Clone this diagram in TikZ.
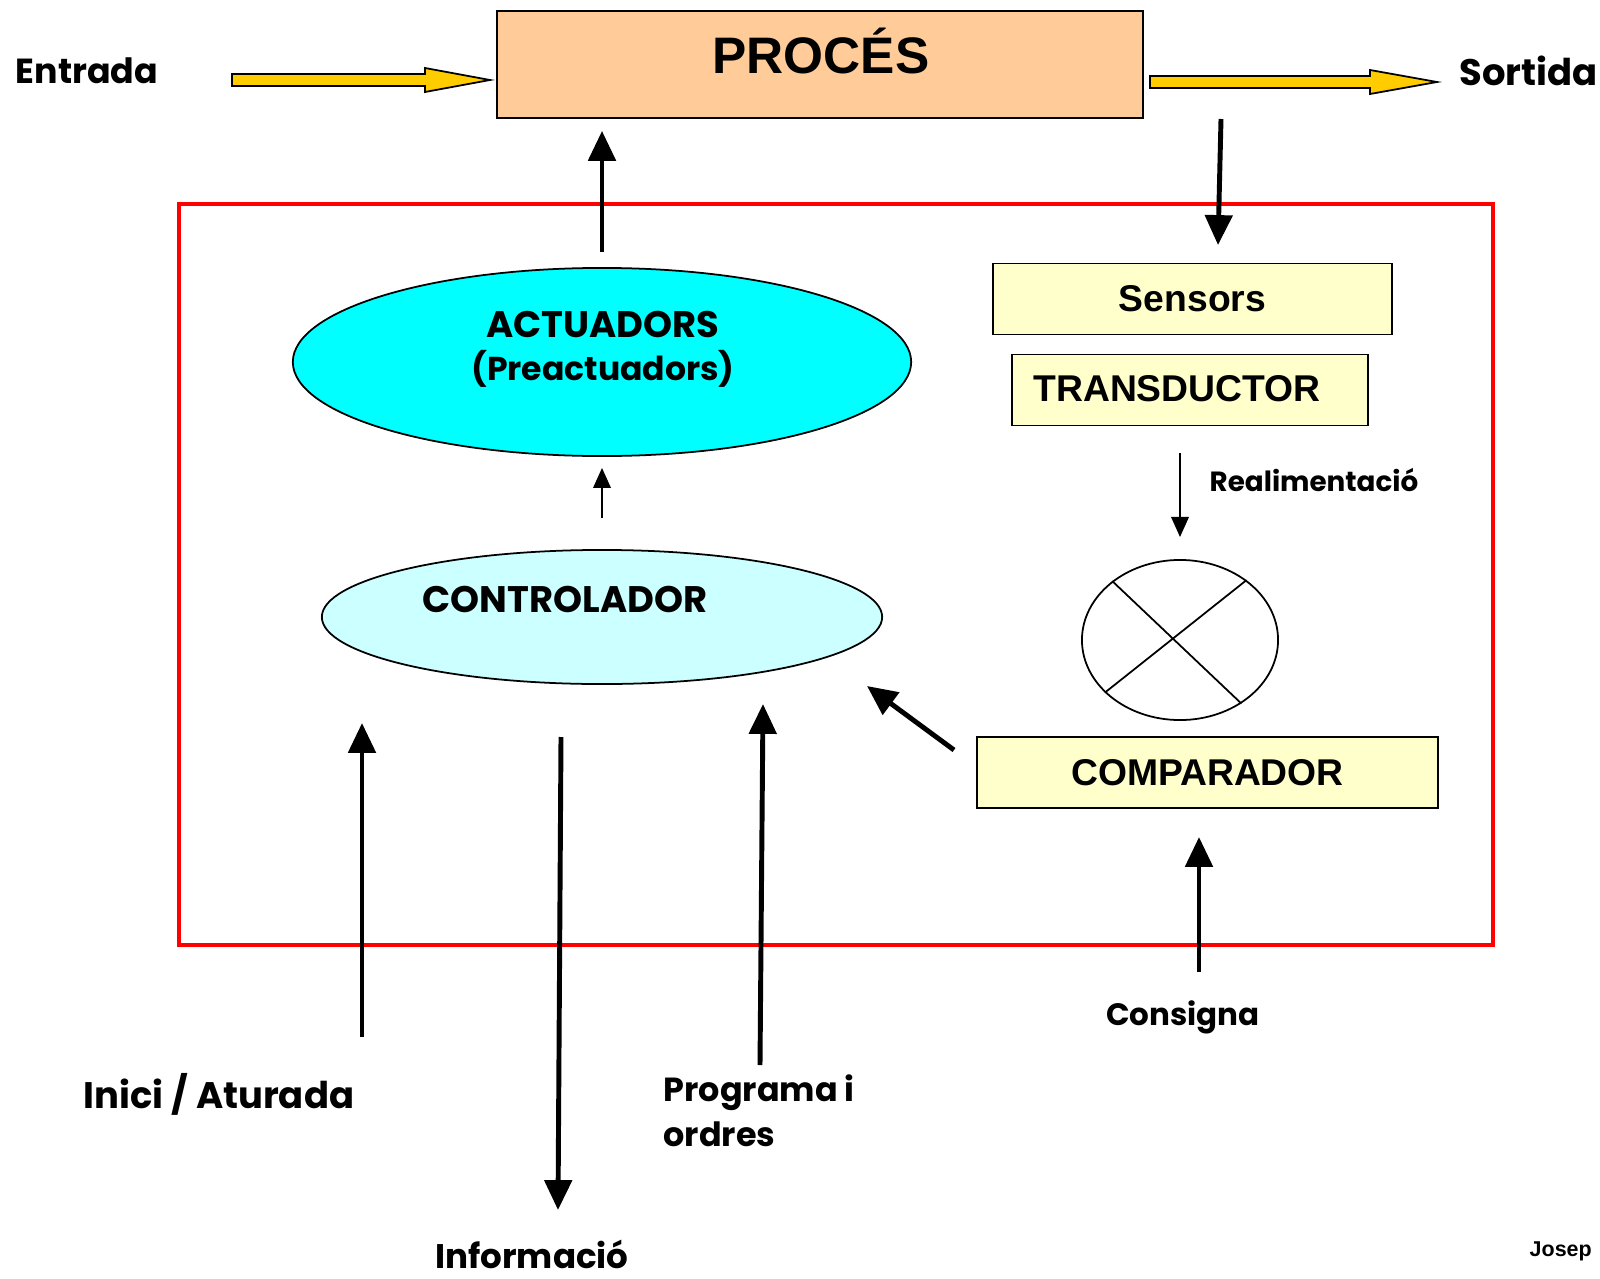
\documentclass[tikz,border=0pt]{standalone}
\usepackage{fontspec}
\usetikzlibrary{arrows.meta,calc,positioning,shapes.geometric}
\newfontfamily\comicfont{Poppins}
\newfontfamily\arialfont{Liberation Sans}
\definecolor{procpeach}{RGB}{255,204,153}
\definecolor{actcyan}{RGB}{0,255,255}
\definecolor{ctrlcyan}{RGB}{204,255,255}
\definecolor{boxyellow}{RGB}{255,255,204}
\definecolor{arrowyellow}{RGB}{255,204,0}
\begin{document}
\begin{tikzpicture}[x=0.01cm,y=-0.01cm,
 comic/.style={font=\comicfont\bfseries\fontsize{10.5}{12.8}\selectfont,inner sep=0pt},
 arial/.style={font=\arialfont\bfseries\fontsize{10.6}{12.8}\selectfont,inner sep=0pt},
 yelbox/.style={draw=black,line width=0.5pt,fill=boxyellow,minimum height=0.71cm,inner sep=0pt},
 bigarrow/.style={line width=1.4pt,-{Triangle[length=8.5pt,width=7.7pt]}},
 thinarrow/.style={line width=0.5pt,-{Triangle[length=5.7pt,width=5pt]}},
 fatarrow/.style={draw=black,line width=0.5pt,fill=arrowyellow,line join=miter}]
\useasboundingbox (0,0) rectangle (1600,1279);
% Procés amb l'entrada i la sortida
\node[draw,fill=procpeach,line width=0.5pt,minimum width=6.46cm,minimum height=1.07cm,inner sep=0pt] (proc) at (820,64.5) {};
\node[font=\arialfont\bfseries\fontsize{14.6}{18}\selectfont,inner sep=0pt] (proctext) at (821,51) {PROCÉS};
\node[comic,font=\comicfont\bfseries\fontsize{9.9}{12}\selectfont,anchor=west] (entrada) at (15,71) {Entrada};
\node[comic,anchor=west] (sortida) at (1459,71) {Sortida};
\filldraw[fatarrow] (232,74) -- (425,74) -- (425,68) -- (490,80) -- (425,92) -- (425,86) -- (232,86) -- cycle;
\filldraw[fatarrow] (1150,76) -- (1370,76) -- (1370,70) -- (1437,82) -- (1370,94) -- (1370,88) -- (1150,88) -- cycle;
% Sistema de control
\draw[red,line width=0.9pt] (179,204) rectangle (1493,945);
\node[ellipse,draw,fill=actcyan,line width=0.5pt,minimum width=6.18cm,minimum height=1.88cm,inner sep=0pt] (act) at (602,362) {};
\node[comic] (acttext) at (603,324) {ACTUADORS};
\node[comic,font=\comicfont\bfseries\fontsize{9.4}{12}\selectfont] (preact) at (603,369) {(Preactuadors)};
\node[ellipse,draw,fill=ctrlcyan,line width=0.5pt,minimum width=5.6cm,minimum height=1.34cm,inner sep=0pt] (ctrl) at (602,617) {};
\node[comic] (ctrltext) at (565,599) {CONTROLADOR};
\node[yelbox,arial,minimum width=3.99cm] (sens) at (1192.5,299) {Sensors};
\node[yelbox,minimum width=3.56cm] (trans) at (1190,390) {};
\node[arial] (transtext) at (1177,389) {TRANSDUCTOR};
\node[ellipse,draw,line width=0.5pt,minimum width=1.96cm,minimum height=1.6cm,inner sep=0pt] (sum) at (1180,640) {};
\draw[line width=0.5pt] (sum.139) -- (sum.-46) (sum.42) -- (sum.215);
\node[yelbox,arial,minimum width=4.61cm] (comp) at (1207.5,772.5) {COMPARADOR};
\node[comic,font=\comicfont\bfseries\fontsize{7.9}{10}\selectfont,anchor=west] (realim) at (1209,480) {Realimentació};
% Entrades i sortides del controlador
\node[comic] (inici) at (219,1094) {Inici / Aturada};
\node[comic,font=\comicfont\bfseries\fontsize{9.7}{12}\selectfont] (info) at (532,1254) {Informació};
\node[comic,font=\comicfont\bfseries\fontsize{9.5}{12.8}\selectfont,anchor=west,align=left] (prog) at (663,1111) {Programa i\\ordres};
\node[comic,font=\comicfont\bfseries\fontsize{8.8}{12}\selectfont] (consigna) at (1183,1017) {Consigna};
\node[font=\arialfont\bfseries\fontsize{6.1}{8}\selectfont,inner sep=0pt,anchor=west] (josep) at (1529,1251) {Josep};
% Connectors
\coordinate (procout) at (1221,119);
\coordinate (sensin) at (1218,245);
\coordinate (fbtop) at (1180,453);
\coordinate (fbbot) at (1180,537);
\coordinate (compout) at (954,750);
\coordinate (ctrlin) at (867,686);
\coordinate (consout) at (1199,972);
\coordinate (consin) at (1199,837);
\coordinate (inicibot) at (362,1037);
\coordinate (inicitop) at (362,723);
\coordinate (infotop) at (561,737);
\coordinate (infobot) at (558,1210);
\coordinate (progbot) at (760,1065);
\coordinate (progtop) at (763,704);
\draw[bigarrow,shorten <=0.15cm,shorten >=0.12cm] (act.north) -- (act.north |- proc.south);
\draw[bigarrow] (procout) -- (sensin);
\draw[thinarrow,shorten <=0.31cm,shorten >=0.11cm] (ctrl.north) -- (act.south);
\draw[thinarrow] (fbtop) -- (fbbot);
\draw[bigarrow] (compout) -- (ctrlin);
\draw[bigarrow] (consout) -- (consin);
\draw[bigarrow] (inicibot) -- (inicitop);
\draw[bigarrow] (infotop) -- (infobot);
\draw[bigarrow] (progbot) -- (progtop);
\end{tikzpicture}
\end{document}
